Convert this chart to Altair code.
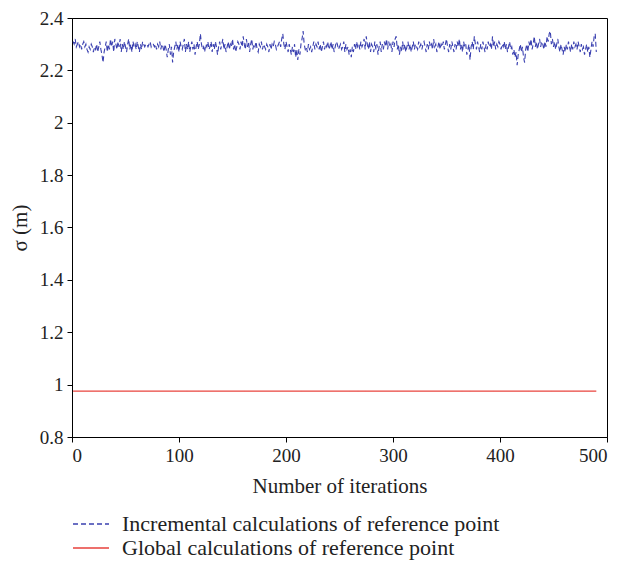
import altair as alt
import pandas as pd

# Incremental calculations (iterations 1..490)
incremental = [
    2.31, 2.30, 2.32, 2.29, 2.30, 2.31, 2.29, 2.30, 2.28, 2.30,
    2.31, 2.29, 2.30, 2.28, 2.27, 2.29, 2.28, 2.30, 2.29, 2.27,
    2.29, 2.28, 2.30, 2.27, 2.29, 2.31, 2.28, 2.26, 2.23, 2.27,
    2.29, 2.31, 2.27, 2.30, 2.28, 2.32, 2.29, 2.31, 2.27, 2.32,
    2.30, 2.28, 2.31, 2.29, 2.32, 2.27, 2.30, 2.28, 2.31, 2.29,
    2.27, 2.30, 2.32, 2.28, 2.30, 2.27, 2.31, 2.29, 2.30, 2.28,
    2.31, 2.29, 2.27, 2.30, 2.28, 2.31, 2.30, 2.29, 2.30, 2.30,
    2.29, 2.30, 2.31, 2.29, 2.30, 2.30, 2.29, 2.30, 2.28, 2.30,
    2.29, 2.31, 2.28, 2.30, 2.29, 2.27, 2.30, 2.28, 2.25, 2.28,
    2.30, 2.26, 2.29, 2.23, 2.27, 2.29, 2.31, 2.28, 2.30, 2.27,
    2.31, 2.29, 2.28, 2.30, 2.32, 2.27, 2.30, 2.28, 2.31, 2.27,
    2.29, 2.31, 2.28, 2.30, 2.26, 2.29, 2.31, 2.28, 2.30, 2.34,
    2.30, 2.28, 2.29, 2.27, 2.30, 2.29, 2.31, 2.28, 2.29, 2.31,
    2.27, 2.30, 2.28, 2.31, 2.29, 2.26, 2.29, 2.31, 2.28, 2.30,
    2.32, 2.28, 2.30, 2.27, 2.29, 2.31, 2.28, 2.30, 2.29, 2.32,
    2.28, 2.30, 2.27, 2.29, 2.31, 2.30, 2.28, 2.31, 2.29, 2.33,
    2.30, 2.28, 2.32, 2.29, 2.31, 2.27, 2.30, 2.32, 2.28, 2.30,
    2.29, 2.31, 2.28, 2.27, 2.30, 2.29, 2.31, 2.28, 2.30, 2.29,
    2.28, 2.30, 2.29, 2.27, 2.30, 2.28, 2.30, 2.29, 2.31, 2.30,
    2.28, 2.29, 2.30, 2.31, 2.29, 2.32, 2.34, 2.30, 2.28, 2.31,
    2.29, 2.27, 2.30, 2.28, 2.26, 2.29, 2.27, 2.30, 2.25, 2.28,
    2.24, 2.28, 2.26, 2.30, 2.32, 2.35, 2.30, 2.28, 2.29, 2.27,
    2.30, 2.28, 2.29, 2.27, 2.29, 2.31, 2.28, 2.30, 2.29, 2.31,
    2.28, 2.30, 2.27, 2.29, 2.31, 2.28, 2.30, 2.29, 2.31, 2.28,
    2.29, 2.31, 2.28, 2.30, 2.27, 2.29, 2.31, 2.30, 2.28, 2.29,
    2.30, 2.28, 2.29, 2.31, 2.27, 2.30, 2.28, 2.29, 2.26, 2.28,
    2.25, 2.29, 2.27, 2.30, 2.28, 2.31, 2.29, 2.30, 2.28, 2.31,
    2.29, 2.30, 2.32, 2.28, 2.33, 2.30, 2.28, 2.31, 2.27, 2.30,
    2.29, 2.27, 2.31, 2.28, 2.30, 2.26, 2.29, 2.31, 2.27, 2.30,
    2.28, 2.31, 2.29, 2.32, 2.28, 2.31, 2.29, 2.30, 2.27, 2.31,
    2.29, 2.32, 2.33, 2.28, 2.30, 2.26, 2.29, 2.27, 2.31, 2.28,
    2.30, 2.27, 2.29, 2.31, 2.28, 2.30, 2.27, 2.29, 2.31, 2.28,
    2.30, 2.29, 2.28, 2.31, 2.29, 2.30, 2.28, 2.30, 2.31, 2.29,
    2.27, 2.30, 2.28, 2.31, 2.29, 2.30, 2.28, 2.32, 2.29, 2.30,
    2.27, 2.29, 2.31, 2.28, 2.30, 2.29, 2.31, 2.28, 2.30, 2.32,
    2.29, 2.27, 2.30, 2.28, 2.31, 2.29, 2.27, 2.30, 2.28, 2.31,
    2.29, 2.32, 2.28, 2.30, 2.27, 2.31, 2.29, 2.30, 2.26, 2.28,
    2.30, 2.24, 2.29, 2.31, 2.28, 2.33, 2.30, 2.28, 2.31, 2.29,
    2.27, 2.30, 2.28, 2.31, 2.29, 2.27, 2.30, 2.28, 2.31, 2.29,
    2.30, 2.28, 2.33, 2.29, 2.31, 2.28, 2.30, 2.29, 2.31, 2.30,
    2.28, 2.30, 2.29, 2.31, 2.28, 2.30, 2.27, 2.29, 2.31, 2.28,
    2.29, 2.26, 2.28, 2.25, 2.27, 2.22, 2.26, 2.28, 2.30, 2.27,
    2.29, 2.25, 2.23, 2.28, 2.30, 2.27, 2.31, 2.29, 2.32, 2.28,
    2.30, 2.33, 2.29, 2.31, 2.28, 2.30, 2.32, 2.29, 2.31, 2.30,
    2.28, 2.31, 2.29, 2.33, 2.31, 2.34, 2.35, 2.30, 2.32, 2.29,
    2.31, 2.28, 2.30, 2.32, 2.29, 2.27, 2.30, 2.28, 2.26, 2.29,
    2.27, 2.30, 2.28, 2.31, 2.29, 2.27, 2.30, 2.28, 2.31, 2.29,
    2.30, 2.28, 2.31, 2.29, 2.27, 2.30, 2.28, 2.29, 2.26, 2.28,
    2.30, 2.27, 2.29, 2.25, 2.28, 2.31, 2.29, 2.33, 2.34, 2.27,
]
incremental_iter = list(range(1, len(incremental) + 1))

# Global calculations (constant)
global_iter = [1, 490]
global_vals = [0.975, 0.975]

label_inc = "Incremental calculations of reference point"
label_glob = "Global calculations of reference point"

df = pd.concat([
    pd.DataFrame({"iter": incremental_iter, "sigma": incremental, "series": label_inc}),
    pd.DataFrame({"iter": global_iter, "sigma": global_vals, "series": label_glob}),
])

FONT = "Liberation Serif"

legend_opts = dict(title=None, orient="none", legendX=6, legendY=493,
                   symbolType="M-1.5,0H1.5", symbolSize=576, symbolStrokeWidth=1.5,
                   labelOffset=18, rowPadding=0, labelFontSize=22, labelFont=FONT,
                   labelColor="#222", labelLimit=600)

chart = alt.Chart(df).mark_line(strokeWidth=1.1).encode(
    x=alt.X("iter:Q", scale=alt.Scale(domain=[0, 500], nice=False),
            axis=alt.Axis(title="Number of iterations", values=[0, 100, 200, 300, 400, 500],
                          grid=False, format="d")),
    y=alt.Y("sigma:Q", scale=alt.Scale(domain=[0.8, 2.4], nice=False, zero=False),
            axis=alt.Axis(title="σ (m)", values=[0.8, 1.0, 1.2, 1.4, 1.6, 1.8, 2.0, 2.2, 2.4],
                          grid=False, format=".1~f")),
    color=alt.Color("series:N", scale=alt.Scale(domain=[label_inc, label_glob],
                                                range=["#3a40b0", "#e8423c"]),
                    legend=alt.Legend(**legend_opts)),
    strokeDash=alt.StrokeDash("series:N", scale=alt.Scale(domain=[label_inc, label_glob],
                                                          range=[[5, 3], [1, 0]]),
                              legend=alt.Legend(**legend_opts)),
    detail="series:N",
).properties(
    width=535, height=419,
    autosize=alt.AutoSizeParams(type="none"),
    padding={"left": 64, "top": 10, "right": 8, "bottom": 124},
).configure_view(
    stroke="#000", strokeWidth=1
).configure_axis(
    labelFont=FONT, titleFont=FONT, labelFontSize=19, titleFontSize=21,
    labelColor="#222", titleColor="#222", titleFontWeight="normal",
    domainColor="#000", tickColor="#000", tickSize=5, labelPadding=4,
).configure_axisX(
    titlePadding=10,
).configure_axisY(
    titlePadding=9,
)

chart.save("out.html", embed_options={"renderer": "svg", "actions": False})
